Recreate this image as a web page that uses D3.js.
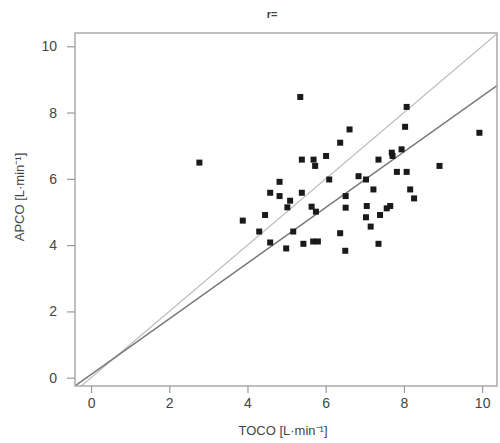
<!DOCTYPE html>
<html>
<head>
<meta charset="utf-8">
<script src="https://cdn.jsdelivr.net/npm/d3@7"></script>
<style>
  body { margin: 0; background: #fff; }
  svg text { font-family: "Liberation Sans Narrow", "Arial Narrow", "Liberation Sans", sans-serif; fill: #444; }
</style>
</head>
<body>
<svg class="plot"></svg>
<script>
// TOCO vs APCO, cardiac output pairs
var toco = [5.35, 8.07, 8.03, 6.61, 6.37, 9.93, 2.77, 5.39, 5.69, 5.73,
            6.01, 7.35, 7.69, 7.71, 7.94, 8.91, 7.82, 8.07, 6.09, 6.84,
            7.03, 4.82, 4.58, 4.82, 5.39, 5.09, 5.02, 7.22, 8.16, 8.26,
            6.51, 6.51, 5.64, 5.75, 7.05, 7.65, 7.56, 7.39, 7.03, 7.15,
            4.45, 3.88, 4.30, 5.17, 4.58, 4.99, 5.43, 5.68, 5.80, 6.37,
            6.50, 7.35];
var apco = [8.47, 8.17, 7.57, 7.49, 7.09, 7.39, 6.49, 6.58, 6.58, 6.39,
            6.69, 6.58, 6.79, 6.69, 6.89, 6.39, 6.21, 6.21, 5.98, 6.08,
            5.98, 5.91, 5.58, 5.48, 5.58, 5.34, 5.14, 5.68, 5.68, 5.41,
            5.48, 5.13, 5.16, 5.01, 5.18, 5.18, 5.11, 4.91, 4.84, 4.56,
            4.91, 4.74, 4.41, 4.41, 4.08, 3.90, 4.04, 4.11, 4.11, 4.36,
            3.83, 4.04];
var xTicks = [0, 2, 4, 6, 8, 10];
var yTicks = [0, 2, 4, 6, 8, 10];
var regSlope = 0.84;
var regIntercept = 0.095;
var titleText = "r=";
var xTitle = "TOCO [L·min⁻¹]";
var yTitle = "APCO [L·min⁻¹]";

var width = 500, height = 443;
var box = {left: 75, top: 33, right: 497, bottom: 386};

var svg = d3.select("svg.plot")
            .attr("width", width)
            .attr("height", height);

var xScale = d3.scaleLinear()
               .domain([-0.41, 10.38])
               .range([box.left, box.right]);
var yScale = d3.scaleLinear()
               .domain([-0.25, 10.4])
               .range([box.bottom, box.top]);

svg.append("clipPath")
   .attr("id", "clip")
   .append("rect")
   .attr("x", box.left)
   .attr("y", box.top)
   .attr("width", box.right - box.left)
   .attr("height", box.bottom - box.top);

var plot = svg.append("g").attr("clip-path", "url(#clip)");

// line of identity
var xd = xScale.domain();
plot.append("line")
    .attr("x1", xScale(xd[0])).attr("y1", yScale(xd[0]))
    .attr("x2", xScale(xd[1])).attr("y2", yScale(xd[1]))
    .attr("stroke", "#bbb")
    .attr("stroke-width", 1.2);

// regression line
plot.append("line")
    .attr("x1", xScale(xd[0])).attr("y1", yScale(regIntercept + regSlope * xd[0]))
    .attr("x2", xScale(xd[1])).attr("y2", yScale(regIntercept + regSlope * xd[1]))
    .attr("stroke", "#777")
    .attr("stroke-width", 1.4);

plot.selectAll("rect.pt")
    .data(toco)
    .enter()
    .append("rect")
    .attr("class", "pt")
    .attr("x", function(d){ return xScale(d) - 3; })
    .attr("y", function(d, i){ return yScale(apco[i]) - 3; })
    .attr("width", 6)
    .attr("height", 6)
    .attr("fill", "#1a1a1a");

// frame
svg.append("rect")
   .attr("x", box.left)
   .attr("y", box.top)
   .attr("width", box.right - box.left)
   .attr("height", box.bottom - box.top)
   .attr("fill", "none")
   .attr("stroke", "#aaa")
   .attr("stroke-width", 1.5);

var xAxis = d3.axisBottom(xScale).tickValues(xTicks).tickSize(7).tickPadding(5);
var gx = svg.append("g")
   .attr("transform", "translate(0," + box.bottom + ")")
   .call(xAxis);
var yAxis = d3.axisLeft(yScale).tickValues(yTicks).tickSize(8).tickPadding(10);
var gy = svg.append("g")
   .attr("transform", "translate(" + box.left + ",0)")
   .call(yAxis);

[gx, gy].forEach(function(g){
  g.select(".domain").remove();
  g.selectAll(".tick line").attr("stroke", "#999").attr("stroke-width", 1.2);
  g.selectAll(".tick text").style("font-size", "14px").attr("fill", "#444");
});

svg.append("text")
   .attr("x", 283)
   .attr("y", 435)
   .attr("text-anchor", "middle")
   .style("font-size", "13px")
   .text(xTitle);

svg.append("text")
   .attr("transform", "translate(24,197) rotate(-90)")
   .attr("text-anchor", "middle")
   .style("font-size", "13px")
   .text(yTitle);

svg.append("text")
   .attr("x", 272)
   .attr("y", 18)
   .attr("text-anchor", "middle")
   .style("font-size", "11px")
   .style("font-weight", "bold")
   .text(titleText);
</script>
</body>
</html>
